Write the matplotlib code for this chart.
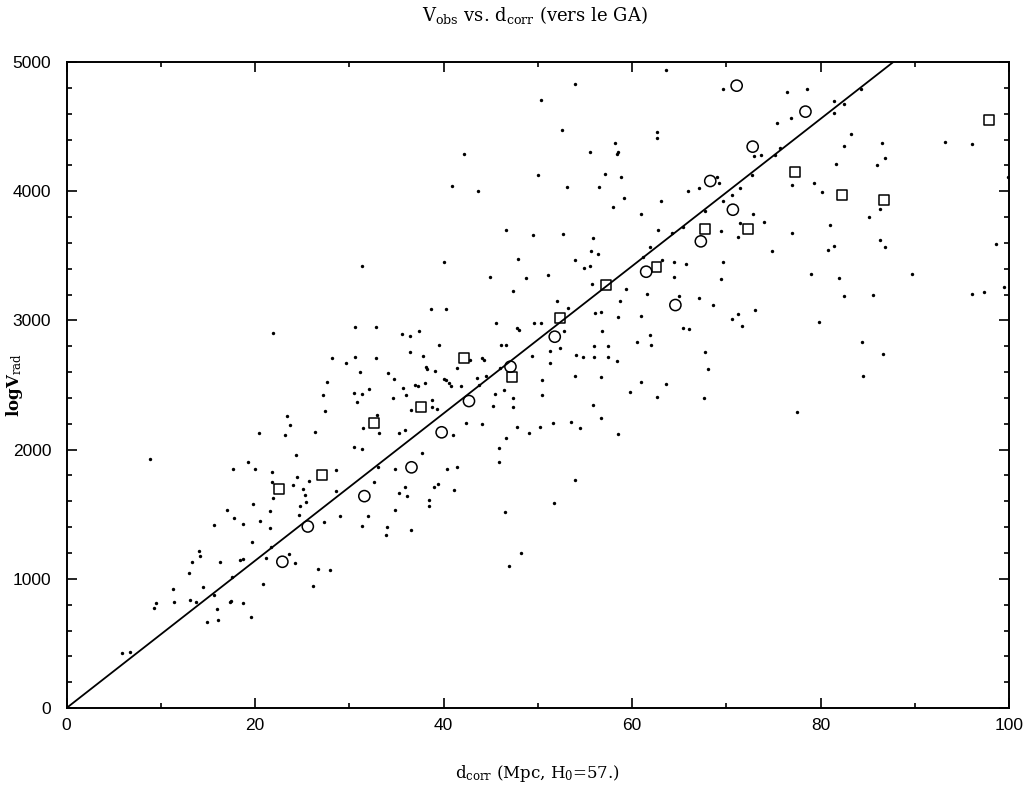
import numpy as np
import matplotlib
matplotlib.use("Agg")
import matplotlib.pyplot as plt

# Hubble constant used for the reference line
H0 = 57.0

# small dots: distance (Mpc), velocity (km/s)
dot_d = [50.3, 42.2, 50.0, 40.9, 43.7, 46.6, 49.5, 31.4, 40.1, 47.9, 44.9, 48.7, 51.1,
         63.6, 53.9, 69.7, 76.4, 52.6, 62.7, 62.7, 58.2, 55.5, 58.4, 58.5, 72.9, 73.7, 75.2, 75.7,
         75.4, 57.1, 58.8, 53.1, 56.5, 69.0, 69.2, 59.1, 58.0, 63.1, 65.9, 67.1, 71.5, 70.6, 69.6,
         72.7, 60.9, 67.7, 72.8, 74.0, 71.5, 69.4, 71.2, 65.4, 64.2, 62.8, 52.7, 55.9, 61.9, 55.6,
         56.4, 53.9, 54.9, 55.5, 61.2, 63.2, 64.5, 65.7, 69.6, 74.8, 64.5, 69.4,
         78.6, 84.3, 81.4, 82.5, 81.4, 76.9, 83.2, 82.5, 86.5, 86.8, 86.0, 81.6, 93.2, 96.1, 99.9,
         77.0, 79.3, 80.2, 86.3, 85.1, 81.0, 77.0, 86.3, 86.8, 80.8, 81.4, 98.6, 79.0, 82.0, 89.7,
         82.5, 85.6, 96.1, 97.3, 99.5, 79.8, 84.4, 86.6, 84.5, 77.5,
         55.8, 59.4, 61.6, 65.0, 67.1, 68.6, 70.6, 71.2, 73.1, 71.7, 65.4, 66.0, 52.0, 53.2, 56.1,
         56.7, 58.5, 61.0, 58.7, 52.8, 56.8, 51.3, 52.4, 51.3, 54.1, 54.8, 56.0, 57.4, 56.0,
         57.5, 58.4, 60.5, 61.9, 62.0, 67.7, 68.1, 67.6, 50.4, 50.4, 54.0, 56.7, 61.0, 63.6, 59.8,
         62.6, 55.9, 56.7, 50.2, 51.6, 53.5, 54.5, 58.5, 54.0,
         47.4, 38.7, 40.3, 30.6, 32.8, 35.6, 36.4, 37.4, 45.6, 47.8, 48.0, 49.6, 50.3, 39.5, 46.1,
         46.6, 36.4, 28.2, 29.6, 30.6, 32.8, 37.8, 42.8, 44.1, 44.3, 49.4, 38.1, 38.2, 39.1, 41.4,
         46.0, 34.1, 34.7, 31.1, 27.6, 32.1, 35.7, 37.0, 37.3, 38.0, 40.0, 40.3, 40.6, 40.8, 41.9,
         43.6, 43.8, 44.5, 46.4, 45.5, 47.4, 47.4, 45.3, 47.8, 49.1, 27.2, 30.5, 31.4, 30.8, 34.6,
         36.0, 38.8, 38.8, 39.3, 36.6, 27.4, 42.4, 44.1, 32.9, 31.5, 33.2, 35.3, 35.9, 41.0, 26.4,
         30.5, 31.3, 37.7, 45.9, 46.6, 45.9, 28.6, 25.7, 33.0, 34.9, 40.4, 41.4, 32.6, 35.9, 39.0,
         39.4, 41.1, 28.6, 25.1, 35.3,
         36.1, 38.5, 38.5, 34.9, 29.0, 32.0, 27.3, 31.3, 34.0, 33.9, 36.6, 46.5, 48.2, 46.9, 26.7,
         28.0, 26.1, 51.7,
         25.3, 25.4, 24.8, 24.7, 21.9, 21.6, 19.8, 17.0, 17.8, 18.7, 20.5, 15.6, 21.6, 19.7, 21.7,
         21.2, 23.6, 24.2, 14.1, 14.2, 13.3, 16.3, 18.4, 18.7, 13.0, 17.6, 14.5, 11.3, 11.4, 13.1,
         13.7, 15.6, 16.0, 17.3, 17.5, 18.7, 20.8, 9.5, 9.3, 14.9, 16.1, 19.6, 5.9, 6.7,
         21.9, 23.4, 23.7, 23.2, 20.4, 24.3, 8.9, 19.3, 17.7, 20.0, 21.8, 21.8, 24.5, 24.0]
dot_v = [4706, 4290, 4125, 4040, 3999, 3697, 3661, 3421, 3452, 3473, 3336, 3331, 3349,
         4938, 4827, 4791, 4765, 4474, 4461, 4412, 4371, 4306, 4286, 4300, 4275, 4280, 4280, 4337,
         4530, 4131, 4110, 4030, 4030, 4108, 4066, 3950, 3880, 3927, 3999, 4027, 4022, 3971, 3927,
         4125, 3824, 3847, 3821, 3762, 3751, 3694, 3648, 3720, 3679, 3700, 3669, 3635, 3570, 3537,
         3514, 3470, 3403, 3421, 3491, 3465, 3454, 3437, 3454, 3537, 3339, 3320,
         4789, 4794, 4696, 4675, 4608, 4569, 4445, 4352, 4371, 4259, 4203, 4211, 4381, 4363, 4112,
         4045, 4061, 3994, 3865, 3798, 3736, 3679, 3622, 3570, 3542, 3573, 3589, 3359, 3326, 3359,
         3191, 3197, 3207, 3218, 3261, 2985, 2833, 2738, 2570, 2289,
         3284, 3245, 3204, 3191, 3176, 3119, 3011, 3047, 3078, 2954, 2941, 2936, 3153, 3098, 3060,
         3063, 3026, 3034, 3150, 2918, 2918, 2766, 2784, 2668, 2732, 2719, 2802, 2802, 2719,
         2719, 2688, 2833, 2887, 2812, 2755, 2626, 2397, 2539, 2425, 2572, 2562, 2521, 2508, 2444,
         2410, 2348, 2247, 2177, 2204, 2216, 2170, 2123, 1765,
         3230, 3091, 3091, 2949, 2949, 2892, 2879, 2918, 2982, 2941, 2923, 2978, 2982, 2812, 2807,
         2810, 2758, 2707, 2673, 2719, 2707, 2724, 2694, 2707, 2690, 2724, 2642, 2624, 2611, 2634,
         2634, 2591, 2549, 2603, 2526, 2469, 2479, 2498, 2490, 2518, 2549, 2539, 2513, 2495, 2495,
         2552, 2500, 2570, 2461, 2428, 2397, 2330, 2340, 2177, 2131, 2423, 2436, 2428, 2366, 2402,
         2425, 2382, 2332, 2312, 2307, 2301, 2204, 2196, 2270, 2165, 2131, 2131, 2149, 2115, 2136,
         2022, 2007, 1976, 2012, 2092, 1902, 1842, 1757, 1868, 1852, 1852, 1868, 1752, 1708, 1713,
         1734, 1687, 1680, 1695, 1662,
         1641, 1610, 1563, 1533, 1488, 1484, 1442, 1411, 1401, 1337, 1378, 1519, 1197, 1099, 1078,
         1068, 944, 1584,
         1652, 1597, 1563, 1491, 1623, 1527, 1577, 1533, 1468, 1426, 1447, 1414, 1393, 1287, 1246,
         1163, 1192, 1120, 1215, 1176, 1132, 1130, 1143, 1153, 1043, 1012, 939, 921, 823, 836,
         820, 877, 766, 820, 830, 810, 957, 810, 774, 666, 681, 702, 423, 433,
         2905, 2262, 2193, 2115, 2131, 1958, 1925, 1902, 1847, 1850, 1824, 1749, 1790, 1726]

# open circles
circ_d = [71.1, 78.4, 72.8, 68.3, 70.7, 67.3, 61.5, 64.6, 51.8, 47.1, 42.7, 39.8, 36.6, 31.6, 25.6, 22.9]
circ_v = [4817, 4616, 4345, 4079, 3857, 3612, 3377, 3119, 2874, 2642, 2376, 2134, 1863, 1640, 1405, 1132]

# open squares
sq_d = [97.9, 77.3, 82.3, 86.7, 67.7, 72.3, 62.6, 57.2, 52.4, 47.3, 42.2, 37.6, 32.6, 27.1, 22.5]
sq_v = [4551, 4146, 3971, 3932, 3710, 3710, 3413, 3274, 3016, 2565, 2707, 2332, 2206, 1801, 1695]

plt.rcParams['font.family'] = 'DejaVu Serif'
plt.rcParams['mathtext.fontset'] = 'dejavuserif'

fig = plt.figure(figsize=(10.33, 7.91), dpi=100)
ax = fig.add_axes([0.0644, 0.1049, 0.9124, 0.8167])

ax.scatter(dot_d, dot_v, s=6, c='black', marker='o', linewidths=0)
ax.scatter(circ_d, circ_v, s=65, facecolors='none', edgecolors='black', marker='o', linewidths=1.1)
ax.scatter(sq_d, sq_v, s=50, facecolors='none', edgecolors='black', marker='s', linewidths=1.1)

line_d = np.array([0, 5000 / H0])
ax.plot(line_d, H0 * line_d, color='black', lw=1.3)

ax.set_xlim(0, 100)
ax.set_ylim(0, 5000)
ax.set_xticks(np.arange(0, 101, 20))
ax.set_xticks(np.arange(0, 101, 10), minor=True)
ax.set_yticks(np.arange(0, 5001, 1000))
ax.set_yticks(np.arange(0, 5001, 200), minor=True)
ax.tick_params(which='both', direction='in', top=True, right=True, width=1.2)
ax.tick_params(which='major', length=7)
ax.tick_params(which='minor', length=3.5)
ax.tick_params(labelsize=12.5)
ax.tick_params(axis='y', pad=11)
ax.tick_params(axis='x', pad=7)
for lab in ax.get_xticklabels() + ax.get_yticklabels():
    lab.set_fontfamily('Liberation Sans')
for sp in ax.spines.values():
    sp.set_linewidth(1.4)

fig.text(0.518, 0.981, r'V$_{\rm obs}$ vs. d$_{\rm corr}$ (vers le GA)',
         fontsize=13, ha='center', va='center')
ax.set_xlabel(r'd$_{\rm corr}$ (Mpc, H$_0$=57.)', fontsize=12)
ax.xaxis.set_label_coords(0.5, -0.085)
ax.set_ylabel(r'logV$_{\rm rad}$', fontsize=12, fontweight='bold')
ax.yaxis.set_label_coords(-0.044, 0.5)

fig.savefig('out.png', dpi=100)
